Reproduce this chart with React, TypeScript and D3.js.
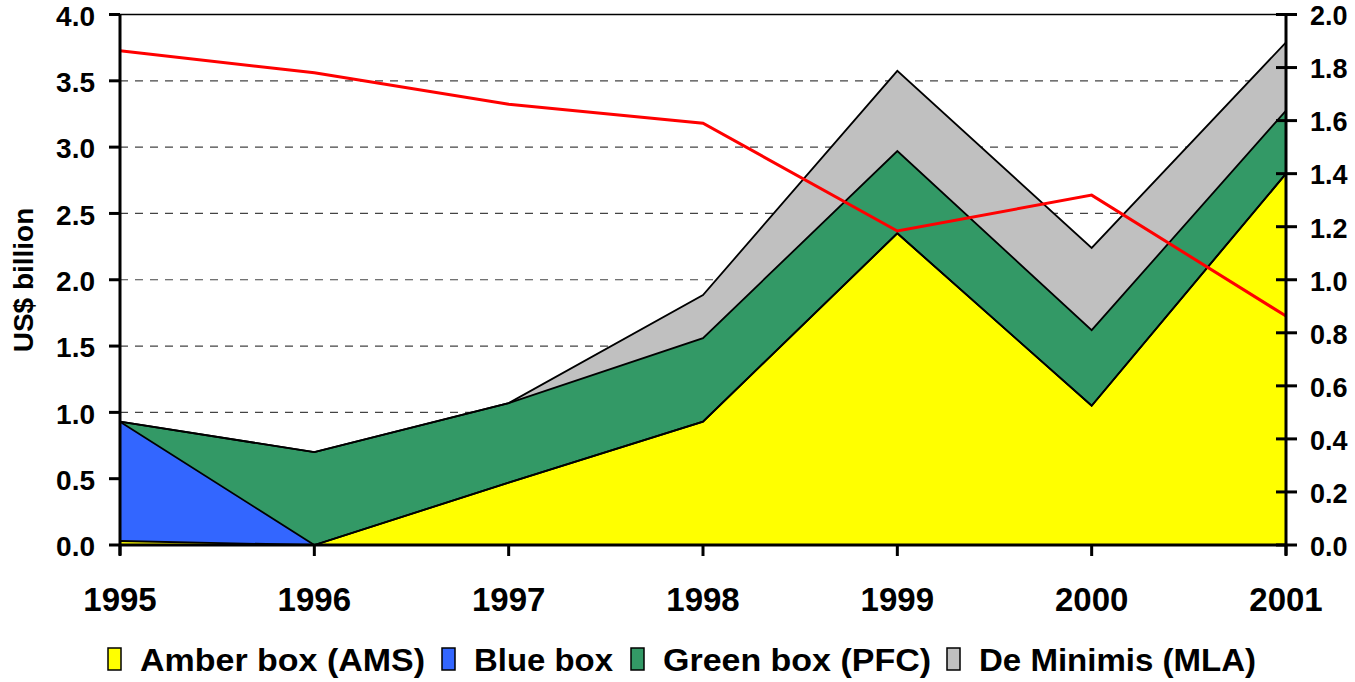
import React from "react";
import * as d3 from "d3";

const years = ["1995", "1996", "1997", "1998", "1999", "2000", "2001"];
const amberBox = [0.03, 0, 0.47, 0.93, 2.35, 1.05, 2.8];
const blueBox = [0.9, 0, 0, 0, 0, 0, 0];
const greenBox = [0, 0.7, 0.6, 0.63, 0.62, 0.57, 0.475];
const deMinimis = [0, 0, 0, 0.325, 0.605, 0.62, 0.515];
const redLine = [1.863, 1.78, 1.662, 1.59, 1.184, 1.319, 0.863];
const leftTicks = [0, 0.5, 1, 1.5, 2, 2.5, 3, 3.5, 4];
const rightTicks = [0, 0.2, 0.4, 0.6, 0.8, 1, 1.2, 1.4, 1.6, 1.8, 2];

const seriesNames = ["Amber box (AMS)", "Blue box", "Green box (PFC)", "De Minimis (MLA)"];
const seriesColors = ["#FFFF00", "#3366FF", "#339966", "#C0C0C0"];
const legendX = [108, 442, 631, 947];
const legendW = [285, 139, 268, 277];

export default function App() {
  const W = 1355, H = 682;
  const left = 120, right = 1286, top = 14.5, bottom = 545;
  const x = d3.scalePoint<string>().domain(years).range([left, right]);
  const yL = d3.scaleLinear().domain([0, 4]).range([bottom, top]);
  const yR = d3.scaleLinear().domain([0, 2]).range([bottom, top]);

  const rows = years.map((yr, i) => ({
    year: yr,
    amber: amberBox[i],
    blue: blueBox[i],
    green: greenBox[i],
    grey: deMinimis[i],
  }));
  const stack = d3.stack<any>().keys(["amber", "blue", "green", "grey"])(rows);
  const area = d3
    .area<any>()
    .x((d) => x(d.data.year)!)
    .y0((d) => yL(d[0]))
    .y1((d) => yL(d[1]));
  const topLine = d3
    .line<any>()
    .x((d) => x(d.data.year)!)
    .y((d) => yL(d[1]));
  const red = d3
    .line<number>()
    .x((_, i) => x(years[i])!)
    .y((d) => yR(d));

  const font = "'Liberation Sans', Arial, sans-serif";

  return (
    <svg width={W} height={H} style={{ position: "absolute", left: 0, top: 0, background: "#fff" }}>
      {/* gridlines */}
      {leftTicks.filter((t) => t > 0 && t < 4).map((t) => (
        <line key={t} x1={left} x2={right} y1={yL(t)} y2={yL(t)} stroke="#444" strokeWidth={1.2} strokeDasharray="8,7" />
      ))}
      {/* areas */}
      {stack.map((s, i) => (
        <path key={s.key} d={area(s as any)!} fill={seriesColors[i]} stroke="none" />
      ))}
      {stack.map((s) => (
        <path key={"l" + s.key} d={topLine(s as any)!} fill="none" stroke="#000" strokeWidth={1.8} strokeLinejoin="miter" />
      ))}
      {/* red line */}
      <path d={red(redLine)!} fill="none" stroke="#FF0000" strokeWidth={3} />
      {/* frame */}
      <line x1={left} x2={right} y1={top} y2={top} stroke="#000" strokeWidth={1.5} />
      <line x1={left} x2={left} y1={top} y2={bottom + 10} stroke="#000" strokeWidth={3} />
      <line x1={right} x2={right} y1={top} y2={bottom + 10} stroke="#000" strokeWidth={3} />
      <line x1={left} x2={right} y1={bottom} y2={bottom} stroke="#000" strokeWidth={3} />
      {/* left ticks */}
      {leftTicks.map((t) => (
        <g key={"lt" + t}>
          <line x1={left - 11} x2={left} y1={yL(t)} y2={yL(t)} stroke="#000" strokeWidth={3} />
          <text x={95} y={yL(t)} dy="0.4em" textAnchor="end" fontFamily={font} fontWeight="bold" fontSize={28}>
            {t.toFixed(1)}
          </text>
        </g>
      ))}
      {/* right ticks */}
      {rightTicks.map((t) => (
        <g key={"rt" + t}>
          <line x1={right - 10} x2={right + 11} y1={yR(t)} y2={yR(t)} stroke="#000" strokeWidth={3} />
          <text x={1310} y={yR(t)} dy="0.4em" textAnchor="start" fontFamily={font} fontWeight="bold" fontSize={27}>
            {t.toFixed(1)}
          </text>
        </g>
      ))}
      {/* x ticks */}
      {years.map((yr) => (
        <g key={"x" + yr}>
          <line x1={x(yr)} x2={x(yr)} y1={bottom} y2={bottom + 11} stroke="#000" strokeWidth={3} />
          <text x={x(yr)} y={611} textAnchor="middle" fontFamily={font} fontWeight="bold" fontSize={33}>
            {yr}
          </text>
        </g>
      ))}
      {/* y title */}
      <text
        transform={`translate(33,280) rotate(-90)`}
        textAnchor="middle"
        fontFamily={font}
        fontWeight="bold"
        fontSize={28}
      >
        US$ billion
      </text>
      {/* legend */}
      {seriesNames.map((n, i) => (
        <g key={n}>
          <rect x={legendX[i]} y={648} width={13} height={22} fill={seriesColors[i]} stroke="#000" strokeWidth={1.5} />
          <text
            x={legendX[i] + 32}
            y={671}
            fontFamily={font}
            fontWeight="bold"
            fontSize={32}
            textLength={legendW[i]}
            lengthAdjust="spacingAndGlyphs"
          >
            {n}
          </text>
        </g>
      ))}
    </svg>
  );
}
